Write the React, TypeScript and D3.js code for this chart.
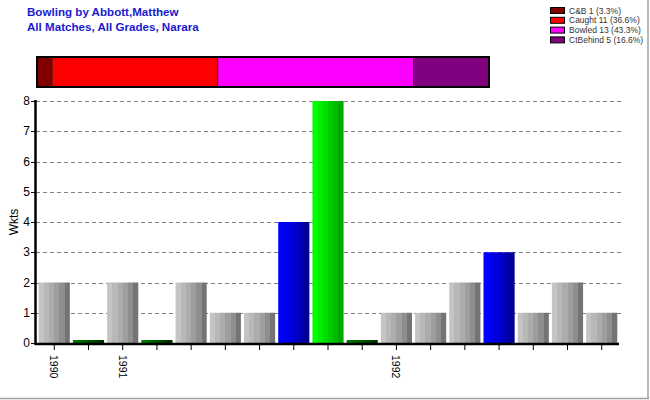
import React from "react";
import * as d3 from "d3";

const titleLines = ["Bowling by Abbott,Matthew", "All Matches, All Grades, Narara"];
const dismissalTypes = ["C&B", "Caught", "Bowled", "CtBehind"];
const dismissalCounts = [1, 11, 13, 5];
const dismissalColors = ["#800000", "#ff0000", "#ff00ff", "#800080"];

const matchValues = [2, 0, 2, 0, 2, 1, 1, 4, 8, 0, 1, 1, 2, 3, 1, 2, 1];
const seasonLabels = ["1990", "", "1991", "", "", "", "", "", "", "", "1992", "", "", "", "", "", ""];
const yTicks = [0, 1, 2, 3, 4, 5, 6, 7, 8];

const W = 650;
const H = 400;

const gradients: Record<string, string[]> = {
  gray: ["#c4c4c4", "#b8b8b8", "#acacac", "#9e9e9e", "#8e8e8e", "#747474"],
  blue: ["#0000ff", "#0000ee", "#0000dc", "#0000c8", "#0000b0", "#000096"],
  green: ["#00ff00", "#00ee00", "#00dc00", "#00cc00", "#00bc00", "#00a800"],
  dark: ["#007a00", "#006a00", "#005c00", "#004e00", "#004000", "#003000"],
};

function colorKey(v: number) {
  if (v === 0) return "dark";
  if (v < 3) return "gray";
  if (v < 5) return "blue";
  return "green";
}

function StepGradient({ id, colors }: { id: string; colors: string[] }) {
  const n = colors.length;
  const stops: React.ReactElement[] = [];
  colors.forEach((c, i) => {
    stops.push(<stop key={i + "a"} offset={`${(i / n) * 100}%`} stopColor={c} />);
    stops.push(<stop key={i + "b"} offset={`${((i + 1) / n) * 100}%`} stopColor={c} />);
  });
  return (
    <linearGradient id={id} x1="0" y1="0" x2="1" y2="0">
      {stops}
    </linearGradient>
  );
}

export default function App() {
  const x = d3
    .scaleBand<number>()
    .domain(matchValues.map((_, i) => i))
    .range([37, 619])
    .paddingInner(0.09)
    .paddingOuter(0.05);
  const y = d3.scaleLinear().domain([0, 8]).range([343, 101]);

  const total = d3.sum(dismissalCounts);
  const sx = d3.scaleLinear().domain([0, total]).range([37, 489]);
  const cum = d3.cumsum(dismissalCounts);

  const font = "Arial, 'Liberation Sans', sans-serif";

  return (
    <svg
      width={W}
      height={H}
      style={{ position: "absolute", left: 0, top: 0, background: "#fff" }}
      fontFamily={font}
    >
      <defs>
        {Object.entries(gradients).map(([k, c]) => (
          <StepGradient key={k} id={"g-" + k} colors={c} />
        ))}
      </defs>
      <rect x={0} y={0} width={W} height={H} fill="#fff" />

      {/* title */}
      {titleLines.map((t, i) => (
        <text key={i} x={27} y={16 + i * 15} fontSize={11.6} fontWeight="bold" fill="#1a1ad0">
          {t}
        </text>
      ))}

      {/* legend */}
      {dismissalTypes.map((t, i) => {
        const pct = Math.floor((dismissalCounts[i] * 1000) / total) / 10;
        const cy = 10.5 + i * 9.8;
        return (
          <g key={t}>
            <rect x={550.5} y={cy - 3} width={14} height={6} fill={dismissalColors[i]} stroke="#000" strokeWidth={1} />
            <text x={569} y={cy + 3} fontSize={8.5} fill="#333">
              {`${t} ${dismissalCounts[i]} (${pct.toFixed(1)}%)`}
            </text>
          </g>
        );
      })}

      {/* stacked breakdown bar */}
      {dismissalCounts.map((c, i) => (
        <rect
          key={i}
          x={sx(cum[i] - c)}
          y={57}
          width={sx(cum[i]) - sx(cum[i] - c)}
          height={30}
          fill={dismissalColors[i]}
          stroke="#222"
          strokeWidth={0.8}
        />
      ))}
      <rect x={sx(0)} y={57} width={sx(total) - sx(0)} height={30} fill="none" stroke="#000" strokeWidth={2} />

      {/* gridlines */}
      {yTicks
        .filter((t) => t > 0)
        .map((t) => (
          <line
            key={t}
            x1={36}
            x2={621}
            y1={Math.round(y(t)) + 0.5}
            y2={Math.round(y(t)) + 0.5}
            stroke="#808080"
            strokeDasharray="4,3"
            strokeWidth={1}
          />
        ))}

      {/* bars */}
      {matchValues.map((v, i) => {
        const top = v === 0 ? y(0) - 3 : y(v);
        return (
          <rect
            key={i}
            x={x(i)!}
            y={top}
            width={x.bandwidth()}
            height={y(0) - top}
            fill={`url(#g-${colorKey(v)})`}
          />
        );
      })}

      {/* y axis */}
      <line x1={35.5} x2={35.5} y1={100} y2={345} stroke="#000" strokeWidth={2.5} />
      {yTicks.map((t) => (
        <g key={t}>
          <line x1={31} x2={35} y1={Math.round(y(t)) + 0.5} y2={Math.round(y(t)) + 0.5} stroke="#000" />
          <text x={30} y={y(t) + 4} fontSize={12} textAnchor="end" fill="#000">
            {t}
          </text>
        </g>
      ))}
      <text transform={`translate(18,${y(4)}) rotate(-90)`} fontSize={12} textAnchor="middle" fill="#000">
        Wkts
      </text>

      {/* x axis */}
      <line x1={35} x2={619} y1={344} y2={344} stroke="#000" strokeWidth={2.5} />
      {matchValues.map((_, i) => {
        const cx = x(i)! + x.bandwidth() / 2;
        return (
          <g key={i}>
            <line x1={cx} x2={cx} y1={345} y2={350} stroke="#000" strokeWidth={1} />
            {seasonLabels[i] && (
              <text
                transform={`translate(${cx - 4},355) rotate(90)`}
                fontSize={10.5}
                fill="#000"
              >
                {seasonLabels[i]}
              </text>
            )}
          </g>
        );
      })}

      {/* frame shadow */}
      <line x1={648} x2={648} y1={0} y2={399} stroke="#a0a0a0" strokeWidth={1.5} />
      <line x1={0} x2={649} y1={398.5} y2={398.5} stroke="#a0a0a0" strokeWidth={1.5} />
    </svg>
  );
}
